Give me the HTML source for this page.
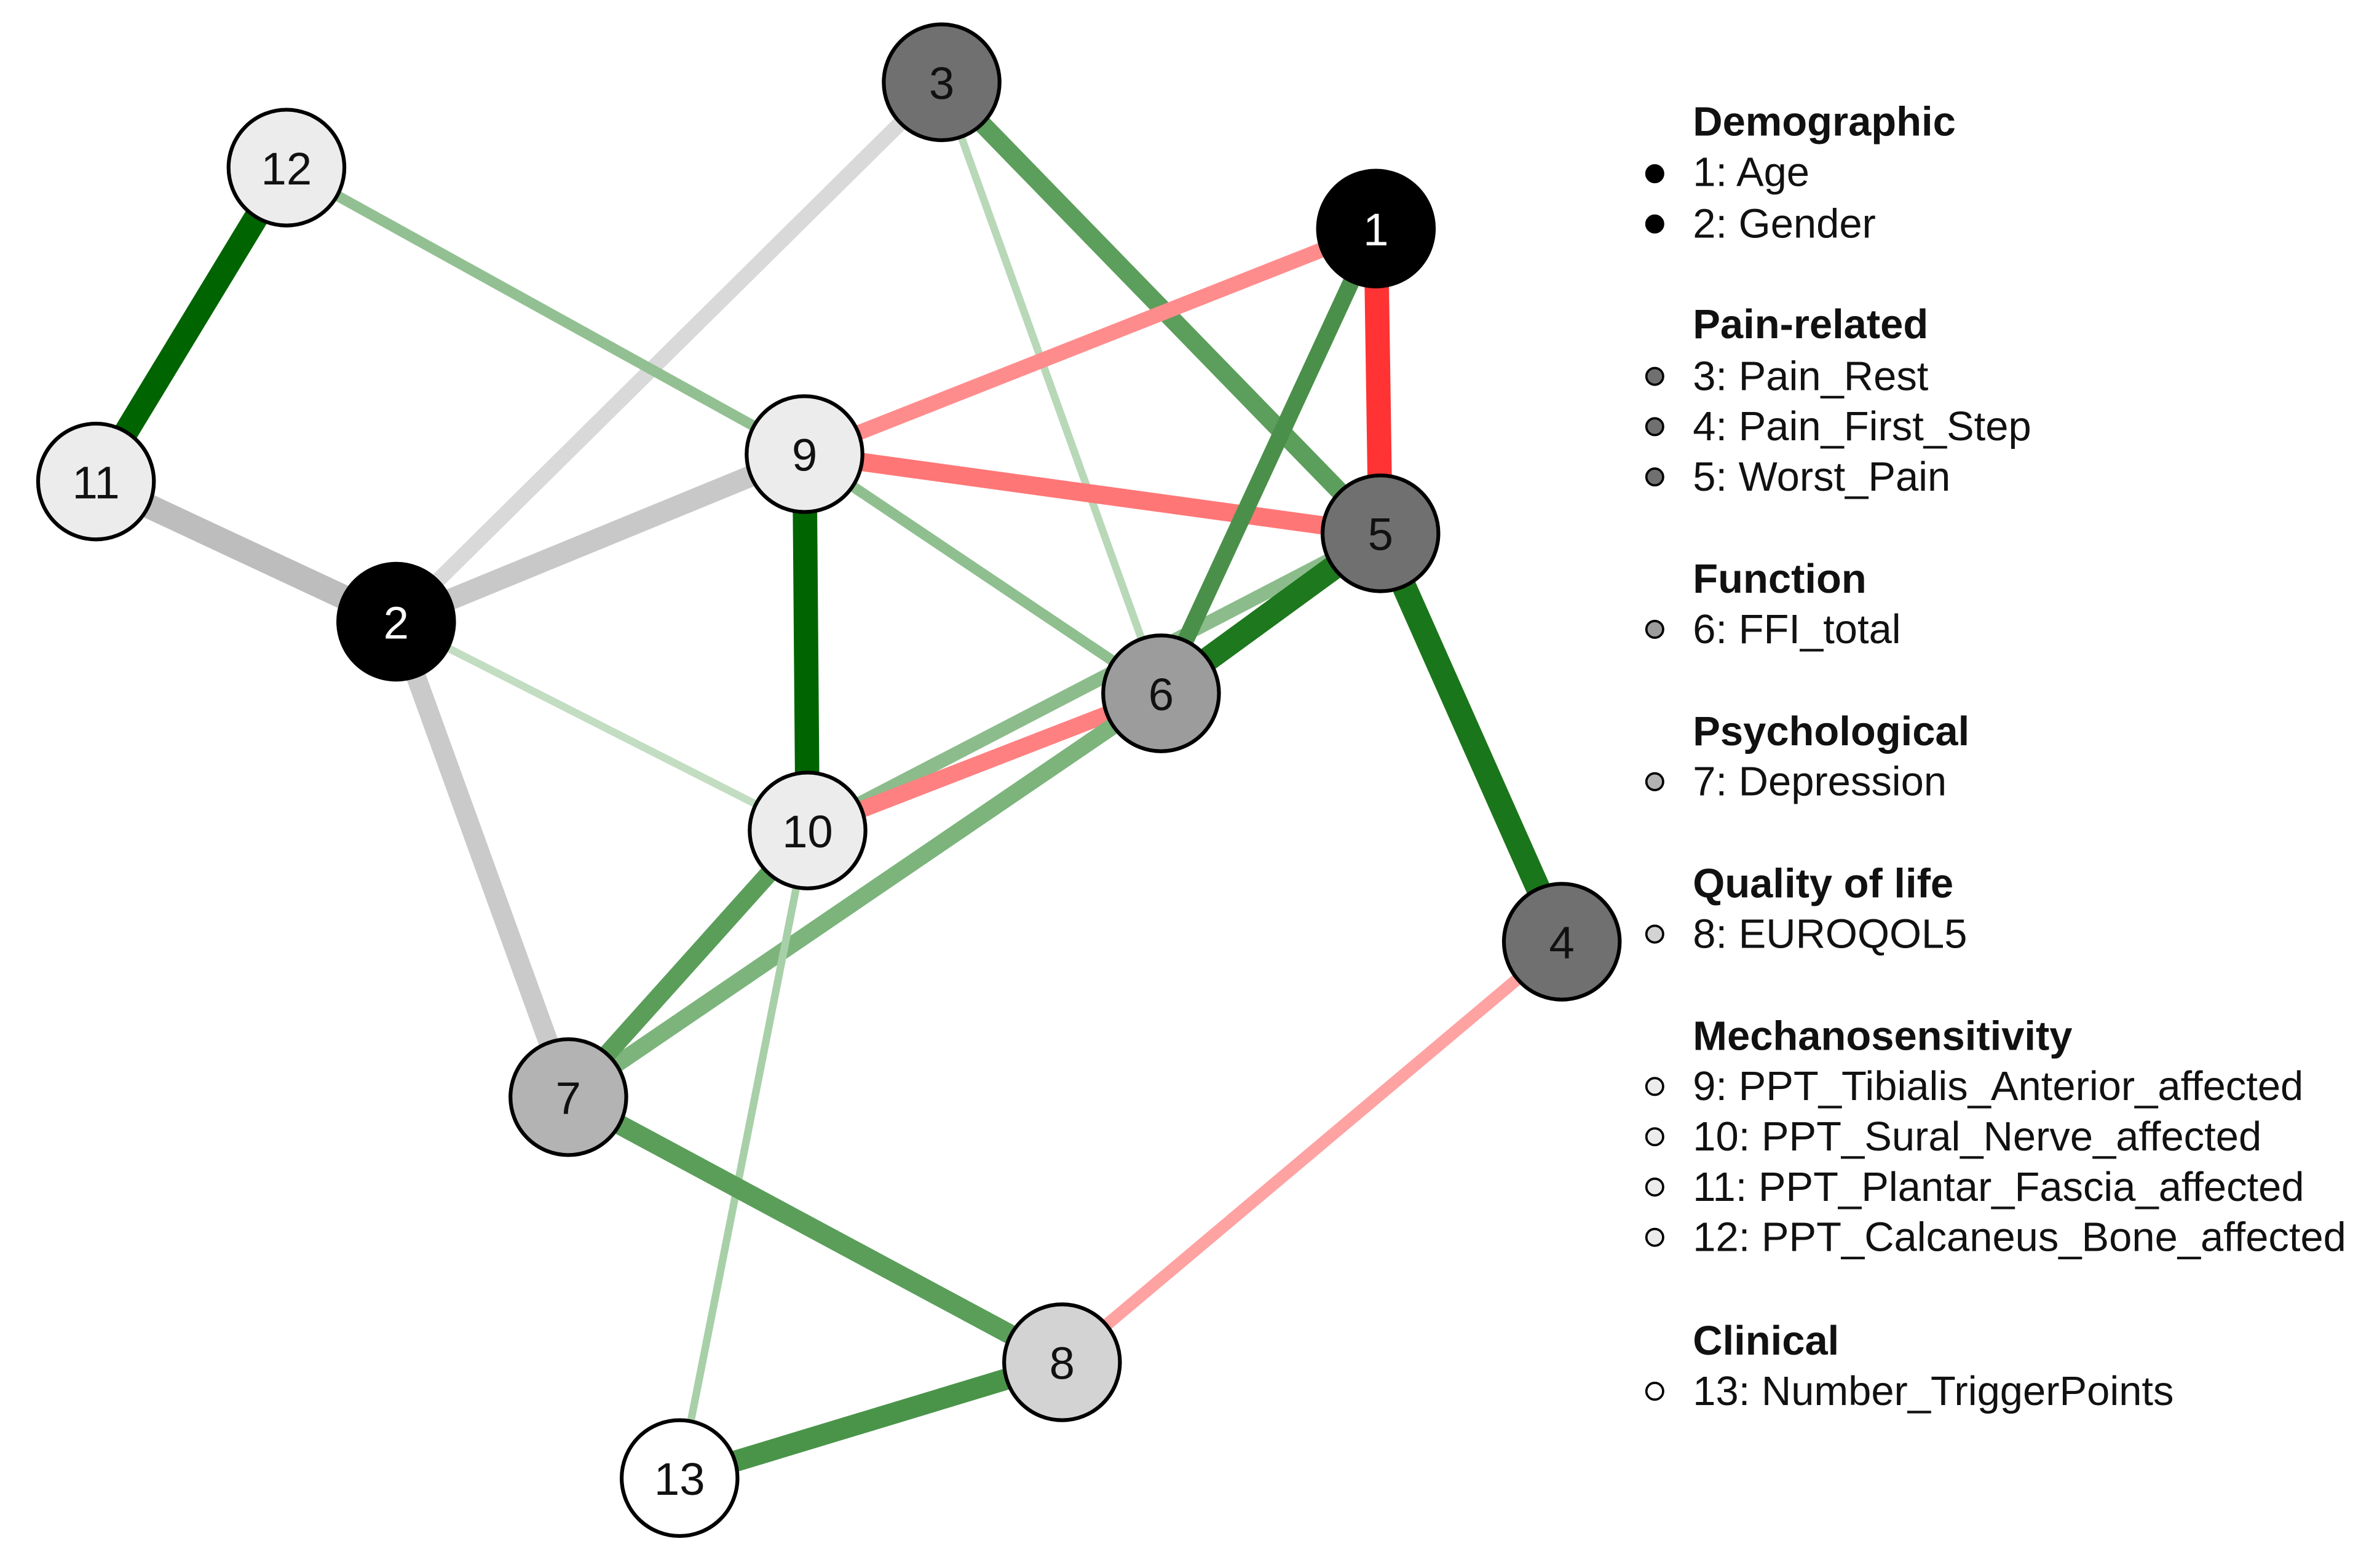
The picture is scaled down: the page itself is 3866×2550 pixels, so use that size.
<!DOCTYPE html>
<html><head><meta charset="utf-8"><style>html,body{margin:0;padding:0;background:#fff}svg{display:block}</style></head>
<body>
<svg width="3866" height="2550" viewBox="0 0 1560 1029" preserveAspectRatio="none" xmlns="http://www.w3.org/2000/svg" font-family="Liberation Sans, Arial, sans-serif">
<g stroke-linecap="butt">
<line x1="63" y1="316" x2="188" y2="110" stroke="#006400" stroke-width="16"/>
<line x1="63" y1="316" x2="260" y2="408" stroke="#bdbdbd" stroke-width="16"/>
<line x1="260" y1="408" x2="528" y2="298" stroke="#c8c8c8" stroke-width="14"/>
<line x1="260" y1="408" x2="618" y2="54" stroke="#d9d9d9" stroke-width="10"/>
<line x1="260" y1="408" x2="373" y2="720" stroke="#cacaca" stroke-width="13"/>
<line x1="260" y1="408" x2="530" y2="545" stroke="#c2ddc2" stroke-width="5"/>
<line x1="188" y1="110" x2="528" y2="298" stroke="#92c092" stroke-width="7"/>
<line x1="618" y1="54" x2="762" y2="455" stroke="#b8d8b8" stroke-width="5"/>
<line x1="618" y1="54" x2="906" y2="350" stroke="#5c9e5c" stroke-width="12"/>
<line x1="528" y1="298" x2="762" y2="455" stroke="#8fbf8f" stroke-width="7"/>
<line x1="530" y1="545" x2="906" y2="350" stroke="#8cbc8c" stroke-width="9"/>
<line x1="530" y1="545" x2="762" y2="455" stroke="#ff8080" stroke-width="11"/>
<line x1="373" y1="720" x2="762" y2="455" stroke="#7cb47c" stroke-width="11"/>
<line x1="530" y1="545" x2="446" y2="970" stroke="#a8d0a8" stroke-width="5"/>
<line x1="530" y1="545" x2="373" y2="720" stroke="#5a9e5a" stroke-width="12"/>
<line x1="528" y1="298" x2="530" y2="545" stroke="#006400" stroke-width="16"/>
<line x1="528" y1="298" x2="903" y2="150" stroke="#ff8c8c" stroke-width="10"/>
<line x1="528" y1="298" x2="906" y2="350" stroke="#ff7676" stroke-width="12"/>
<line x1="903" y1="150" x2="906" y2="350" stroke="#ff3333" stroke-width="16"/>
<line x1="903" y1="150" x2="762" y2="455" stroke="#4a904a" stroke-width="11"/>
<line x1="906" y1="350" x2="762" y2="455" stroke="#1e781e" stroke-width="16"/>
<line x1="906" y1="350" x2="1025" y2="618" stroke="#1a761a" stroke-width="16"/>
<line x1="373" y1="720" x2="697" y2="894" stroke="#5a9e5a" stroke-width="13"/>
<line x1="697" y1="894" x2="446" y2="970" stroke="#4a944a" stroke-width="14"/>
<line x1="697" y1="894" x2="1025" y2="618" stroke="#ffa2a2" stroke-width="8"/>
</g>
<g stroke="#000" stroke-width="2.5">
<circle cx="903" cy="150" r="38" fill="#000"/>
<circle cx="260" cy="408" r="38" fill="#000"/>
<circle cx="618" cy="54" r="38" fill="#707070"/>
<circle cx="1025" cy="618" r="38" fill="#707070"/>
<circle cx="906" cy="350" r="38" fill="#707070"/>
<circle cx="762" cy="455" r="38" fill="#9c9c9c"/>
<circle cx="373" cy="720" r="38" fill="#b3b3b3"/>
<circle cx="697" cy="894" r="38" fill="#d3d3d3"/>
<circle cx="528" cy="298" r="38" fill="#ececec"/>
<circle cx="530" cy="545" r="38" fill="#ececec"/>
<circle cx="63" cy="316" r="38" fill="#ececec"/>
<circle cx="188" cy="110" r="38" fill="#ececec"/>
<circle cx="446" cy="970" r="38" fill="#fff"/>
</g>
<g font-size="30" text-anchor="middle" fill="#111">
<text x="903" y="161" fill="#fff">1</text>
<text x="260" y="419" fill="#fff">2</text>
<text x="618" y="65">3</text>
<text x="1025" y="629">4</text>
<text x="906" y="361">5</text>
<text x="762" y="466">6</text>
<text x="373" y="731">7</text>
<text x="697" y="905">8</text>
<text x="528" y="309">9</text>
<text x="530" y="556">10</text>
<text x="63" y="327">11</text>
<text x="188" y="121">12</text>
<text x="446" y="981">13</text>
</g>
<g font-size="27" fill="#111">
<g font-weight="bold">
<text x="1111" y="89">Demographic</text>
<text x="1111" y="222">Pain-related</text>
<text x="1111" y="389">Function</text>
<text x="1111" y="489">Psychological</text>
<text x="1111" y="589">Quality of life</text>
<text x="1111" y="689">Mechanosensitivity</text>
<text x="1111" y="889">Clinical</text>
</g>
<text x="1111" y="122">1: Age</text>
<text x="1111" y="156">2: Gender</text>
<text x="1111" y="256">3: Pain_Rest</text>
<text x="1111" y="289">4: Pain_First_Step</text>
<text x="1111" y="322">5: Worst_Pain</text>
<text x="1111" y="422">6: FFI_total</text>
<text x="1111" y="522">7: Depression</text>
<text x="1111" y="622">8: EUROQOL5</text>
<text x="1111" y="722">9: PPT_Tibialis_Anterior_affected</text>
<text x="1111" y="755">10: PPT_Sural_Nerve_affected</text>
<text x="1111" y="788">11: PPT_Plantar_Fascia_affected</text>
<text x="1111" y="821">12: PPT_Calcaneus_Bone_affected</text>
<text x="1111" y="922">13: Number_TriggerPoints</text>
</g>
<g stroke="#000" stroke-width="1.5">
<circle cx="1086" cy="114" r="5.5" fill="#000"/>
<circle cx="1086" cy="147" r="5.5" fill="#000"/>
<circle cx="1086" cy="247" r="5.5" fill="#707070"/>
<circle cx="1086" cy="280" r="5.5" fill="#707070"/>
<circle cx="1086" cy="313" r="5.5" fill="#707070"/>
<circle cx="1086" cy="413" r="5.5" fill="#9c9c9c"/>
<circle cx="1086" cy="513" r="5.5" fill="#b3b3b3"/>
<circle cx="1086" cy="613" r="5.5" fill="#d3d3d3"/>
<circle cx="1086" cy="713" r="5.5" fill="#ececec"/>
<circle cx="1086" cy="746" r="5.5" fill="#ececec"/>
<circle cx="1086" cy="779" r="5.5" fill="#ececec"/>
<circle cx="1086" cy="812" r="5.5" fill="#ececec"/>
<circle cx="1086" cy="913" r="5.5" fill="#fff"/>
</g>
</svg>
</body></html>
